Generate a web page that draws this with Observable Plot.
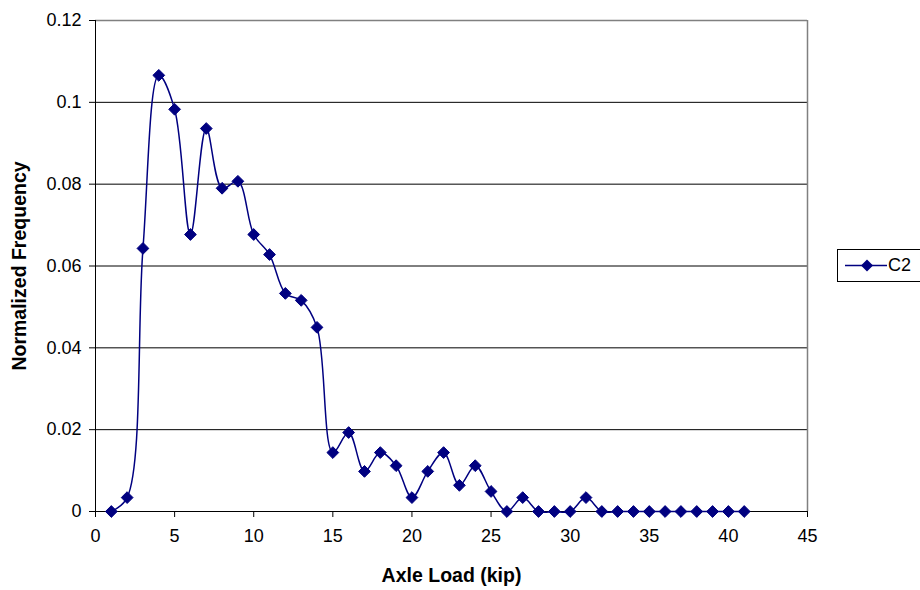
<!DOCTYPE html>
<html>
<head>
<meta charset="utf-8">
<script src="https://cdn.jsdelivr.net/npm/d3@7"></script>
<script src="https://cdn.jsdelivr.net/npm/@observablehq/plot@0.6"></script>
<style>
  html, body { margin: 0; padding: 0; background: #fff; }
  #wrap { position: relative; width: 920px; height: 590px; overflow: hidden; font-family: "Liberation Sans", Arial, sans-serif; }
  #wrap svg { font-family: "Liberation Sans", Arial, sans-serif; }
  g[aria-label="y-axis label"] text, g[aria-label="x-axis label"] text { font-weight: bold; font-size: 19.5px; }
  #legend { position: absolute; left: 837px; top: 249px; width: 100px; height: 33px; border: 1px solid #000; box-sizing: border-box; background: #fff; }
  #legend svg { position: absolute; left: 0; top: 0; }
  #legend span { position: absolute; left: 50px; top: 5px; font-size: 18px; color: #000; }
</style>
</head>
<body>
<div id="wrap"></div>
<script>
const seriesName = "C2";
const axleLoad = [1,2,3,4,5,6,7,8,9,10,11,12,13,14,15,16,17,18,19,20,21,22,23,24,25,26,27,28,29,30,31,32,33,34,35,36,37,38,39,40,41];
const frequency = [0,0.0034,0.0643,0.1066,0.0983,0.0677,0.0936,0.0790,0.0807,0.0677,0.0628,0.0533,0.0516,0.0450,0.0144,0.0193,0.0098,0.0144,0.0112,0.0034,0.0098,0.0144,0.0064,0.0112,0.0049,0,0.0034,0,0,0,0.0034,0,0,0,0,0,0,0,0,0,0];
const xTicks = [0,5,10,15,20,25,30,35,40,45];
const yTicks = [0,0.02,0.04,0.06,0.08,0.1,0.12];
const yTickLabels = ["0","0.02","0.04","0.06","0.08","0.1","0.12"];
const gridValues = [0.02,0.04,0.06,0.08,0.1];
const xTitle = "Axle Load (kip)";
const yTitle = "Normalized Frequency";

const data = axleLoad.map((x, i) => ({x, y: frequency[i]}));
const color = "#000080";

const chart = Plot.plot({
  width: 920,
  height: 590,
  marginLeft: 95,
  marginRight: 113,
  marginTop: 20,
  marginBottom: 79,
  x: {domain: [0, 45]},
  y: {domain: [0, 0.12]},
  marks: [
    Plot.ruleY(gridValues, {stroke: "#000", strokeWidth: 1}),
    Plot.ruleY([0.12], {stroke: "#808080", strokeWidth: 1.5}),
    Plot.ruleX([45], {stroke: "#808080", strokeWidth: 1.5}),
    Plot.ruleY([0], {stroke: "#000", strokeWidth: 1}),
    Plot.ruleX([0], {stroke: "#000", strokeWidth: 1}),
    Plot.axisX({ticks: xTicks, tickSize: 6, tickPadding: 12, fontSize: 18, stroke: "#000", label: xTitle, labelAnchor: "center", labelArrow: "none", labelOffset: 70}),
    Plot.axisY({ticks: yTicks, tickFormat: (d, i) => yTickLabels[yTicks.indexOf(d)], tickSize: 6, tickPadding: 8, fontSize: 18, stroke: "#000", label: yTitle, labelAnchor: "center", labelArrow: "none", labelOffset: 83}),
    Plot.line(data, {x: "x", y: "y", stroke: color, strokeWidth: 1.5, curve: "catmull-rom"}),
    Plot.dot(data, {x: "x", y: "y", symbol: "diamond2", r: 5.3, fill: color, stroke: color, strokeWidth: 1})
  ]
});
const wrap = document.getElementById("wrap");
wrap.appendChild(chart);

const legend = document.createElement("div");
legend.id = "legend";
legend.innerHTML = `<svg width="50" height="31"><line x1="7" y1="15.5" x2="49" y2="15.5" stroke="${color}" stroke-width="1.5"></line><path d="M29,9.5L35,15.5L29,21.5L23,15.5Z" fill="${color}"></path></svg><span>${seriesName}</span>`;
wrap.appendChild(legend);
</script>
</body>
</html>
